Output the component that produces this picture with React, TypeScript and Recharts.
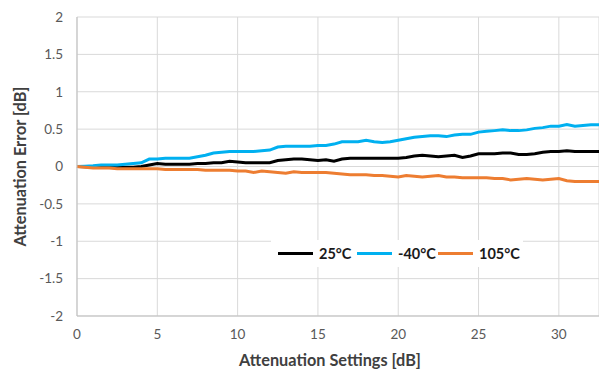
import React from 'react';
import { LineChart, Line, XAxis, YAxis, CartesianGrid, Legend } from 'recharts';

const settings = [
  0, 0.5, 1, 1.5, 2, 2.5, 3, 3.5, 4, 4.5, 5, 5.5, 6, 6.5, 7, 7.5, 8, 8.5, 9, 9.5, 10, 10.5,
  11, 11.5, 12, 12.5, 13, 13.5, 14, 14.5, 15, 15.5, 16, 16.5, 17, 17.5, 18, 18.5, 19, 19.5,
  20, 20.5, 21, 21.5, 22, 22.5, 23, 23.5, 24, 24.5, 25, 25.5, 26, 26.5, 27, 27.5, 28, 28.5,
  29, 29.5, 30, 30.5, 31, 31.5, 32, 32.5,
];

const err25 = [
  0, -0.005, -0.01, -0.01, -0.01, -0.01, -0.01, -0.01, 0, 0.02, 0.04, 0.03, 0.03, 0.03, 0.03, 0.04,
  0.04, 0.05, 0.05, 0.07, 0.06, 0.05, 0.05, 0.05, 0.05, 0.08, 0.09, 0.1, 0.1, 0.09, 0.08, 0.09,
  0.07, 0.1, 0.11, 0.11, 0.11, 0.11, 0.11, 0.11, 0.11, 0.12, 0.14, 0.15, 0.14, 0.13, 0.14, 0.15,
  0.12, 0.14, 0.17, 0.17, 0.17, 0.18, 0.18, 0.16, 0.16, 0.17, 0.19, 0.2, 0.2, 0.21, 0.2, 0.2,
  0.2, 0.2,
];

const errMinus40 = [
  0, 0.005, 0.01, 0.02, 0.02, 0.02, 0.03, 0.04, 0.05, 0.1, 0.1, 0.11, 0.11, 0.11, 0.11, 0.13,
  0.15, 0.18, 0.19, 0.2, 0.2, 0.2, 0.2, 0.21, 0.22, 0.26, 0.27, 0.27, 0.27, 0.27, 0.28, 0.28,
  0.3, 0.33, 0.33, 0.33, 0.35, 0.33, 0.32, 0.33, 0.35, 0.37, 0.39, 0.4, 0.41, 0.41, 0.4, 0.42,
  0.43, 0.43, 0.46, 0.47, 0.48, 0.49, 0.48, 0.48, 0.49, 0.51, 0.52, 0.54, 0.54, 0.56, 0.54, 0.55,
  0.56, 0.56,
];

const err105 = [
  0, -0.01, -0.02, -0.02, -0.02, -0.03, -0.03, -0.03, -0.03, -0.03, -0.03, -0.04, -0.04, -0.04,
  -0.04, -0.04, -0.05, -0.05, -0.05, -0.05, -0.06, -0.06, -0.08, -0.06, -0.07, -0.08, -0.09,
  -0.07, -0.08, -0.08, -0.08, -0.08, -0.09, -0.1, -0.11, -0.11, -0.11, -0.12, -0.12, -0.13,
  -0.14, -0.12, -0.13, -0.14, -0.13, -0.12, -0.14, -0.14, -0.15, -0.15, -0.15, -0.15, -0.16,
  -0.16, -0.18, -0.17, -0.16, -0.17, -0.18, -0.17, -0.16, -0.19, -0.2, -0.2, -0.2, -0.2,
];

const xTicks = [0, 5, 10, 15, 20, 25, 30];
const yTicks = [-2, -1.5, -1, -0.5, 0, 0.5, 1, 1.5, 2];

const seriesInfo = [
  { key: 't25', name: '25°C', color: '#000000' },
  { key: 'tm40', name: '-40°C', color: '#00b0f0' },
  { key: 't105', name: '105°C', color: '#ed7d31' },
];

const chartData = settings.map((s, i) => ({
  setting: s,
  t25: err25[i],
  tm40: errMinus40[i],
  t105: err105[i],
}));

const font = 'Lato, "Open Sans", sans-serif';

const LegendBox = () => (
  <div
    style={{
      position: 'relative',
      width: 252,
      height: 27,
      background: '#fff',
      fontFamily: font,
      fontWeight: 700,
      fontSize: 14.5,
      color: '#1a1a1a',
    }}
  >
    {seriesInfo.map((s, i) => {
      const lefts = [7, 86, 167];
      return (
        <div
          key={s.key}
          style={{ position: 'absolute', left: lefts[i], top: 5, display: 'flex', alignItems: 'center' }}
        >
          <span style={{ display: 'inline-block', width: 35, height: 3, background: s.color, marginRight: 6 }} />
          <span>{s.name}</span>
        </div>
      );
    })}
  </div>
);

export default function App() {
  return (
    <div style={{ position: 'absolute', left: 0, top: 0, width: 599, height: 373, background: '#fff' }}>
      <LineChart width={599} height={373} data={chartData} margin={{ top: 17, right: 0, left: 0, bottom: 0 }}>
        <CartesianGrid stroke="#d9d9d9" strokeWidth={1} />
        <XAxis
          dataKey="setting"
          type="number"
          domain={[0, 32.5]}
          ticks={xTicks}
          height={57}
          stroke="#bfbfbf"
          tickLine={false}
          tickSize={0}
          tickMargin={13}
          tick={{ fill: '#595959', fontSize: 13.5, fontFamily: font }}
          label={{
            value: 'Attenuation Settings [dB]',
            position: 'insideBottom',
            offset: 7,
            dx: -8,
            style: { fill: '#404040', fontSize: 16.3, fontWeight: 700, fontFamily: font },
          }}
        />
        <YAxis
          type="number"
          domain={[-2, 2]}
          ticks={yTicks}
          width={77}
          stroke="#bfbfbf"
          tickLine={false}
          tickSize={0}
          tickMargin={14}
          tick={{ fill: '#595959', fontSize: 13.5, fontFamily: font }}
          label={{
            value: 'Attenuation Error [dB]',
            angle: -90,
            position: 'insideLeft',
            offset: 20,
            style: { textAnchor: 'middle', fill: '#404040', fontSize: 16.3, fontWeight: 700, fontFamily: font },
          }}
        />
        <Legend
          verticalAlign="middle"
          align="center"
          content={() => <LegendBox />}
          wrapperStyle={{ left: 271, top: 240, width: 252 }}
        />
        {seriesInfo.map((s) => (
          <Line
            key={s.key}
            dataKey={s.key}
            name={s.name}
            type="linear"
            stroke={s.color}
            strokeWidth={3}
            dot={false}
            isAnimationActive={false}
          />
        ))}
      </LineChart>
    </div>
  );
}
